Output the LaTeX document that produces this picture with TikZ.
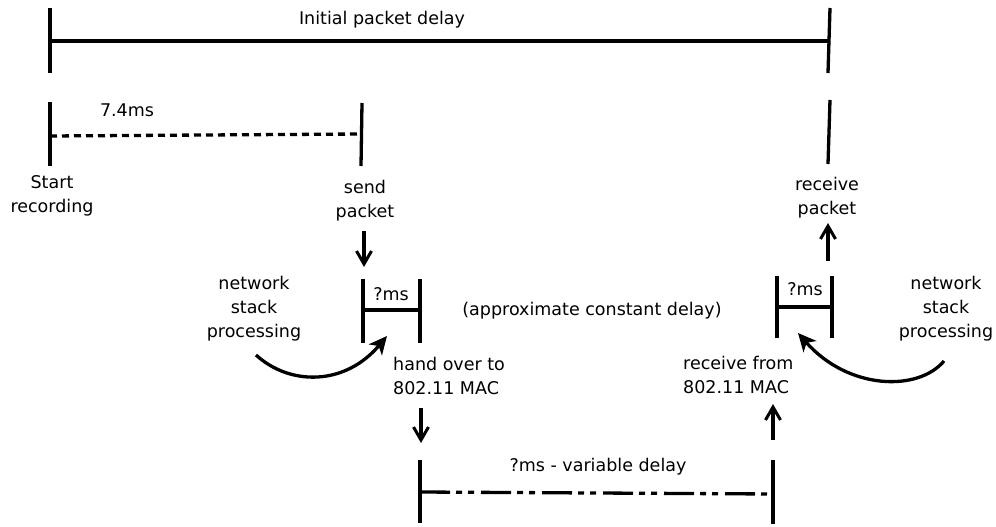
\documentclass[tikz,border=0pt]{standalone}
\usepackage{fontspec}
\setmainfont{DejaVu Sans}
\usetikzlibrary{arrows.meta}
\begin{document}
\begin{tikzpicture}[x=1pt,y=-1pt,
  lbl/.style={font=\fontsize{17.5}{24}\selectfont,inner sep=0pt,align=center},
  tick/.style={line width=3.3pt},
  span/.style={line width=3.3pt},
  dotspan/.style={line width=3.3pt,dash pattern=on 7pt off 5pt},
  varspan/.style={line width=3.3pt,dash pattern=on 30pt off 6pt on 6pt off 6pt on 6pt off 7pt},
  flow/.style={line width=3.1pt,-{Straight Barb[length=13pt,width=15pt,line width=3pt]}},
  curvearrow/.style={line width=3.3pt,-{Stealth[length=18pt,width=17pt,inset=5pt]}}]
\useasboundingbox (0,0) rectangle (996,527);

% overall delay from start of recording to reception
\coordinate (t0a) at (50,8);   \coordinate (t0b) at (50,73);
\coordinate (t1a) at (830,8);  \coordinate (t1b) at (828,73);
\coordinate (s0) at (50,41);   \coordinate (s1) at (829,41);
\draw[tick] (t0a) -- (t0b);
\draw[tick] (t1a) -- (t1b);
\draw[span] (s0) -- (s1);
\node[lbl] (initial) at (382,20) {Initial packet delay};

% recording start to sending
\coordinate (r0a) at (50,102);  \coordinate (r0b) at (50,166);
\coordinate (r1a) at (362,103); \coordinate (r1b) at (361,166);
\coordinate (d0) at (50,136);   \coordinate (d1) at (361,134);
\draw[tick] (r0a) -- (r0b);
\draw[tick] (r1a) -- (r1b);
\draw[dotspan] (d0) -- (d1);
\node[lbl] (rec) at (127,110) {7.4ms};
\node[lbl] (start) at (52,196) {Start\\recording};
\node[lbl] (send) at (365,200.5) {send\\packet};

% receiving side tick
\coordinate (q0a) at (830,100); \coordinate (q0b) at (828,164);
\draw[tick] (q0a) -- (q0b);
\node[lbl] (recv) at (827,198) {receive\\packet};

% sender stack processing
\coordinate (a0) at (364,231); \coordinate (a1) at (364,267);
\draw[flow] (a0) -- (a1);
\coordinate (l0a) at (363,279); \coordinate (l0b) at (363,343);
\coordinate (l1a) at (420,279); \coordinate (l1b) at (420,343);
\coordinate (ls0) at (363,310); \coordinate (ls1) at (420,310);
\draw[tick] (l0a) -- (l0b);
\draw[tick] (l1a) -- (l1b);
\draw[span] (ls0) -- (ls1);
\node[lbl] (lms) at (391,294) {?ms};
\node[lbl] (lnet) at (254,309) {network\\stack\\processing};
\coordinate (lc0) at (256,355); \coordinate (lc1) at (387,336);
\draw[curvearrow] (lc0) .. controls (290,386) and (345,386) .. (lc1);
\node[lbl] (const) at (592,311) {(approximate constant delay)};
\node[lbl,anchor=west,align=left] (hand) at (393,376) {hand over to\\802.11 MAC};
\coordinate (b0) at (421,408); \coordinate (b1) at (421,443);
\draw[flow] (b0) -- (b1);

% air interface
\coordinate (m0a) at (420,460); \coordinate (m0b) at (420,523);
\coordinate (m1a) at (773,460); \coordinate (m1b) at (773,524);
\coordinate (v0) at (420,492);  \coordinate (v1) at (773,494);
\draw[tick] (m0a) -- (m0b);
\draw[tick] (m1a) -- (m1b);
\draw[varspan] (v0) -- (v1);
\node[lbl] (var) at (598,467) {?ms - variable delay};

% receiver stack processing
\coordinate (c0) at (773,440); \coordinate (c1) at (773,404);
\draw[flow] (c0) -- (c1);
\node[lbl,anchor=west,align=left] (rfrom) at (683,375) {receive from\\802.11 MAC};
\coordinate (k0a) at (777,276); \coordinate (k0b) at (777,338);
\coordinate (k1a) at (832,276); \coordinate (k1b) at (832,338);
\coordinate (ks0) at (777,307); \coordinate (ks1) at (832,307);
\draw[tick] (k0a) -- (k0b);
\draw[tick] (k1a) -- (k1b);
\draw[span] (ks0) -- (ks1);
\node[lbl] (rms) at (805,289) {?ms};
\node[lbl] (rnet) at (946,309) {network\\stack\\processing};
\coordinate (rc0) at (944,361); \coordinate (rc1) at (798,333);
\draw[curvearrow] (rc0) .. controls (918,392) and (848,390) .. (rc1);
\coordinate (e0) at (828,261); \coordinate (e1) at (828,223);
\draw[flow] (e0) -- (e1);
\end{tikzpicture}
\end{document}
